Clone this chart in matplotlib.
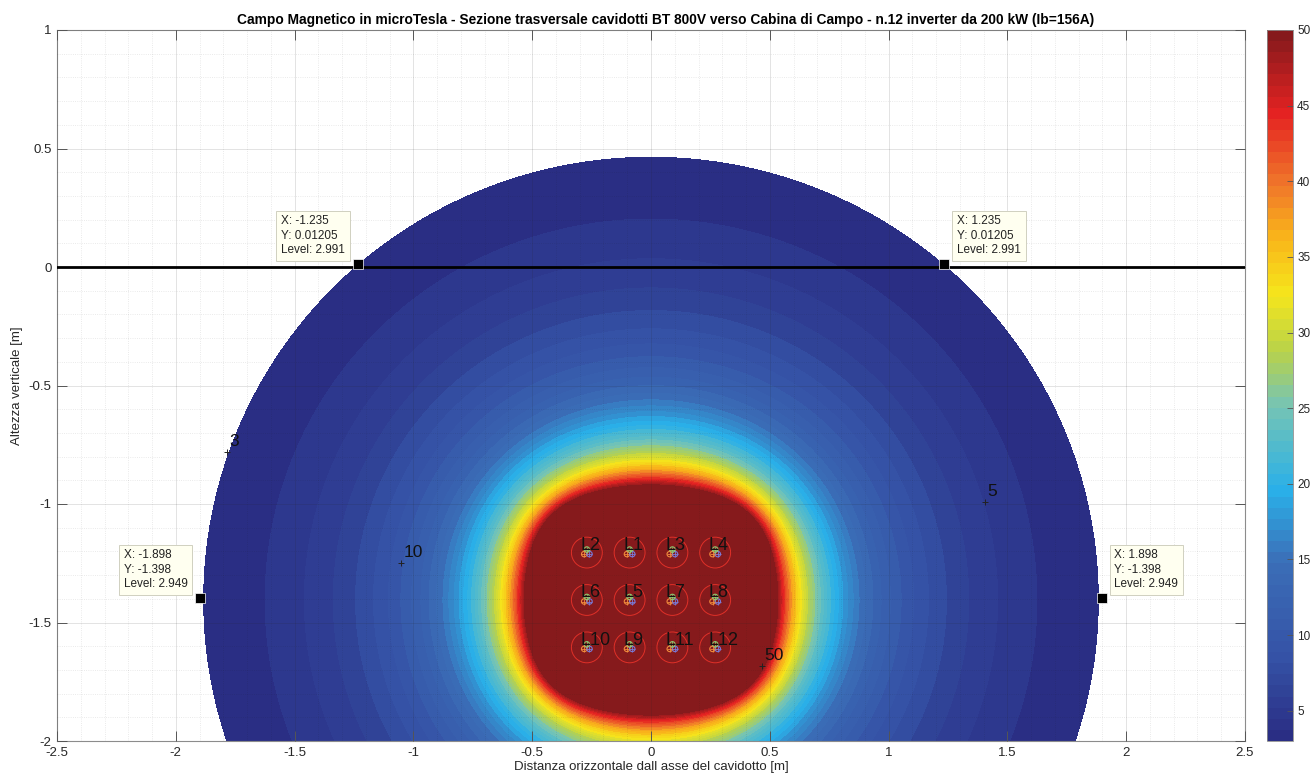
import numpy as np
import matplotlib
matplotlib.use("Agg")
import matplotlib.pyplot as plt
from matplotlib.colors import LinearSegmentedColormap, ListedColormap, Normalize
from matplotlib.patches import Circle
from matplotlib.ticker import MultipleLocator, FormatStrFormatter
import matplotlib.cm as cm

# --- Cavidotto: 12 terne a trifoglio, Ib = 156 A ---
CIRCUIT_LABELS = ["L1", "L2", "L3", "L4", "L5", "L6", "L7", "L8", "L9", "L10", "L11", "L12"]
CIRCUIT_X = [-0.09, -0.27, 0.09, 0.27, -0.09, -0.27, 0.09, 0.27, -0.09, -0.27, 0.09, 0.27]
CIRCUIT_Y = [-1.205, -1.205, -1.205, -1.205, -1.405, -1.405, -1.405, -1.405,
             -1.605, -1.605, -1.605, -1.605]
CURRENT_A = 156.0
PHASE_DEG = [0.0, 120.0, 240.0]
TREFOIL_SPACING = 0.0222  # m, interasse conduttori

# --- Livelli e scala colori ---
LEVEL_MIN = 2.95
CONTOUR_LEVELS = [LEVEL_MIN] + list(range(4, 51))
CBAR_TICKS = [5, 10, 15, 20, 25, 30, 35, 40, 45, 50]
CMAP_NODES = [0.0, 0.11, 0.25, 0.35, 0.47, 0.55, 0.63, 0.71, 0.79, 0.89, 1.0]
CMAP_COLORS = ["#2a2e84", "#3552a6", "#3b6fb8", "#2ab0e8", "#76c4b4", "#b8d24a",
               "#f5e61c", "#f9b51a", "#f0762a", "#e42222", "#861a1c"]

# --- Data tips ---
TIP_X = [-1.235, 1.235, -1.898, 1.898]
TIP_Y = [0.01205, 0.01205, -1.398, -1.398]
TIP_LEVEL = [2.991, 2.991, 2.949, 2.949]

# --- Etichette isolinee ---
CLABEL_TEXT = ["3", "10", "5", "50"]
CLABEL_X = [-1.785, -1.052, 1.406, 0.467]
CLABEL_Y = [-0.78, -1.249, -0.99, -1.684]

COND_COLORS = ["#f08a3c", "#7a7ad8", "#8cc870"]

TITLE = ("Campo Magnetico in microTesla - Sezione trasversale cavidotti BT 800V "
         "verso Cabina di Campo - n.12 inverter da 200 kW (Ib=156A)")


def trefoil_offsets(s):
    h = s * np.sqrt(3)
    return [(-s / 2, -h / 6), (s / 2, -h / 6), (0.0, h / 3)]


def magnetic_field(xx, yy):
    """Induzione magnetica (RMS) in microTesla.
    Somma dei moduli delle singole terne (approccio cautelativo)."""
    total = np.zeros(xx.shape)
    offs = trefoil_offsets(TREFOIL_SPACING)
    for cx, cy in zip(CIRCUIT_X, CIRCUIT_Y):
        bx = np.zeros(xx.shape, dtype=complex)
        by = np.zeros(xx.shape, dtype=complex)
        for (dx, dy), ph in zip(offs, PHASE_DEG):
            i = CURRENT_A * np.exp(1j * np.deg2rad(ph))
            rx = xx - (cx + dx)
            ry = yy - (cy + dy)
            r2 = rx ** 2 + ry ** 2 + 1e-9
            bx += -0.2 * i * ry / r2
            by += 0.2 * i * rx / r2
        total += np.sqrt(np.abs(bx) ** 2 + np.abs(by) ** 2)
    return total


plt.rcParams['font.family'] = ['Liberation Sans', 'DejaVu Sans']

base = LinearSegmentedColormap.from_list("softjet", list(zip(CMAP_NODES, CMAP_COLORS)))
cmap = ListedColormap(base(np.linspace(0, 1, 64)))
cmap.set_over(CMAP_COLORS[-1])
norm = Normalize(vmin=3, vmax=50)

W, H = 1311, 783
fig = plt.figure(figsize=(W / 100, H / 100), dpi=100)
ax = fig.add_axes([57 / W, 1 - 741 / H, 1188 / W, 711 / H])

xs = np.linspace(-2.5, 2.5, 1251)
ys = np.linspace(-2.0, 1.0, 751)
xx, yy = np.meshgrid(xs, ys)
B = magnetic_field(xx, yy)

ax.contourf(xx, yy, B, levels=CONTOUR_LEVELS, cmap=cmap, norm=norm, extend='max', zorder=1)

# circuiti
offs = trefoil_offsets(TREFOIL_SPACING)
for lab, cx, cy in zip(CIRCUIT_LABELS, CIRCUIT_X, CIRCUIT_Y):
    ax.add_patch(Circle((cx, cy), 0.065, fill=False, ec="#e03028", lw=0.7, zorder=3))
    for (dx, dy), col in zip(offs, COND_COLORS):
        ax.add_patch(Circle((cx + dx, cy + dy), 0.0115, fill=False, ec=col, lw=0.8, zorder=3))
        ax.plot(cx + dx, cy + dy, '+', color=col, ms=4, mew=0.6, zorder=4)
    ax.text(cx - 0.027, cy + 0.012, lab, fontsize=13, color="#111111",
            ha='left', va='baseline', zorder=5)

# linea del piano campagna
ax.axhline(0, color='black', lw=2, zorder=4)

# etichette isolinee
for t, x, y in zip(CLABEL_TEXT, CLABEL_X, CLABEL_Y):
    ax.plot(x, y, '+', color='#222222', ms=5, mew=0.7, zorder=5)
    ax.annotate(t, (x, y), xytext=(1.5, 2), textcoords='offset points',
                fontsize=12.5, color='#111111', ha='left', va='bottom', zorder=5)

# data tips
for x, y, lvl in zip(TIP_X, TIP_Y, TIP_LEVEL):
    ax.plot(x, y, 's', color='black', mec='white', mew=0.5, ms=7, zorder=6)
    sgn = 1 if x > 0 else -1
    ax.annotate(f"X: {x:g}\nY: {y:g}\nLevel: {lvl:g}", (x, y),
                xytext=(sgn * 9, 6), textcoords='offset points',
                ha='left' if sgn > 0 else 'right', va='bottom', multialignment='left',
                fontsize=8.5, color='#222222', linespacing=1.25, zorder=7,
                bbox=dict(boxstyle='square,pad=0.4', fc='#fffff0', ec='#d0d0c0', lw=0.7))

ax.set_xlim(-2.5, 2.5)
ax.set_ylim(-2, 1)
ax.xaxis.set_major_locator(MultipleLocator(0.5))
ax.yaxis.set_major_locator(MultipleLocator(0.5))
ax.xaxis.set_minor_locator(MultipleLocator(0.1))
ax.yaxis.set_minor_locator(MultipleLocator(0.1))
ax.xaxis.set_major_formatter(FormatStrFormatter('%g'))
ax.yaxis.set_major_formatter(FormatStrFormatter('%g'))
ax.tick_params(which='major', direction='in', length=7, width=0.7, top=True, right=True,
               color='#555555', labelsize=9.5, labelcolor='#262626', pad=4)
ax.tick_params(which='minor', length=0, top=True, right=True)
ax.set_axisbelow(False)
ax.grid(True, which='major', color='#262626', alpha=0.15, lw=0.6, ls='-')
ax.grid(True, which='minor', color='#1a1a1a', alpha=0.12, lw=0.6, ls=':')
for sp in ax.spines.values():
    sp.set_color('#8c8c8c')
    sp.set_linewidth(0.8)

ax.set_title(TITLE, fontsize=9.9, fontweight='bold', color='black', pad=4, x=0.512)
ax.set_xlabel("Distanza orizzontale dall asse del cavidotto [m]", fontsize=9.5,
              color='#262626', labelpad=2)
ax.set_ylabel("Altezza verticale [m]", fontsize=9.5, color='#262626', labelpad=4)

cax = fig.add_axes([1267 / W, 1 - 741 / H, 26 / W, 711 / H])
cb = fig.colorbar(cm.ScalarMappable(norm=norm, cmap=cmap), cax=cax, ticks=CBAR_TICKS)
cb.outline.set_edgecolor('#8c8c8c')
cb.outline.set_linewidth(0.6)
cax.tick_params(direction='in', length=4, width=0.6, color='#555555',
                labelsize=8.5, labelcolor='#262626', pad=3)

fig.savefig("out.png", dpi=100)
